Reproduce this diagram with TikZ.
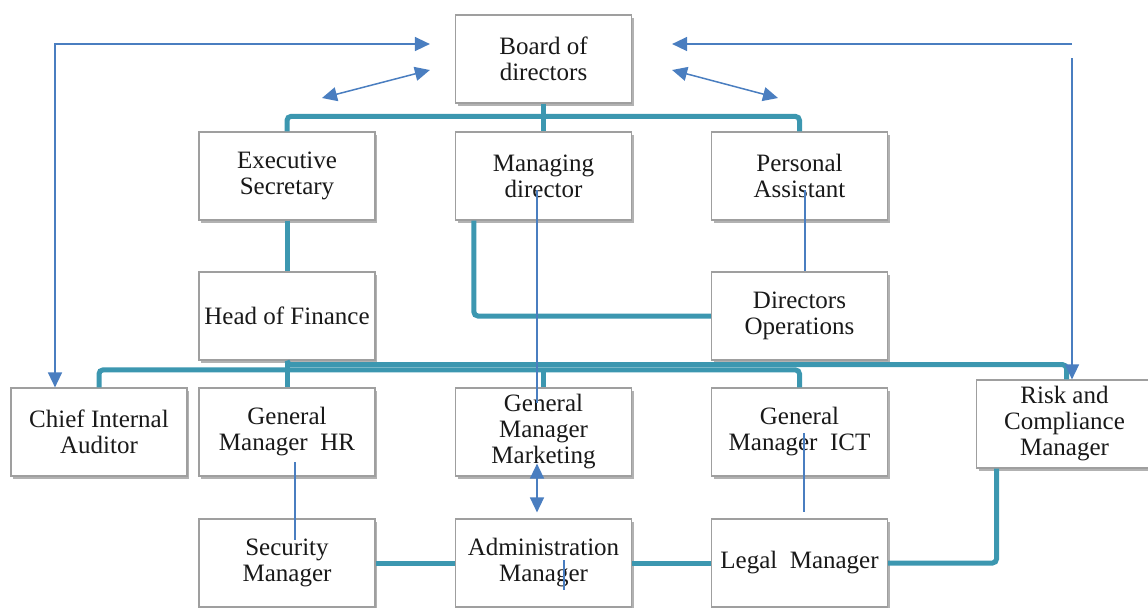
\documentclass[tikz,border=0pt]{standalone}
\usepackage{fontspec}
\setmainfont{Liberation Serif}
\usetikzlibrary{
    arrows.meta,
    shadows
}
\definecolor{busteal}{HTML}{3C97B0}
\definecolor{linkblue}{HTML}{4A7EC0}
\tikzset {
    post/.style = {
        draw = gray!75, line width = 0.6pt, fill = white,
        minimum width = 88pt, minimum height = 44pt,
        align = center, inner sep = 1pt,
        font = \fontsize{12.5pt}{13pt}\selectfont,
        text = black!90,
        drop shadow = {shadow xshift = 1.2pt, shadow yshift = -1.5pt, fill = black, opacity = 0.3}
    },
    bus line/.style = {draw = busteal, line width = 2.5pt, rounded corners = 2pt},
    thin line/.style = {draw = linkblue, line width = 0.75pt},
    %
    one way/.style = {arrows = {-Triangle[length = 7.5pt, width = 7pt]}},
    two way/.style = {arrows = {Triangle[length = 7.5pt, width = 7pt]-Triangle[length = 7.5pt, width = 7pt]}}
}
\begin{document}
\begin{tikzpicture}[x = 0.5pt, y = -0.5pt]
    \useasboundingbox (0, 0) rectangle (1148, 607);
    %
    \node (board) [post] at (543.5, 59) {Board of\\directors};
    \node (exec) [post] at (287, 176) {Executive\\Secretary};
    \node (md) [post] at (543.5, 176) {Managing\\director};
    \node (pa) [post] at (799.5, 176) {Personal\\Assistant};
    \node (hof) [post] at (287, 316) {Head of Finance};
    \node (dops) [post] at (799.5, 316) {Directors\\Operations};
    \node (cia) [post] at (99, 432) {Chief Internal\\Auditor};
    \node (gmhr) [post] at (287, 432) {General\\Manager~ HR};
    \node (gmm) [post] at (543.5, 432) {General\\Manager\\Marketing};
    \node (gmict) [post] at (799.5, 432) {General\\Manager~ ICT};
    \node (risk) [post] at (1064.5, 424) {Risk and\\Compliance\\Manager};
    \node (sec) [post] at (287, 563) {Security\\Manager};
    \node (adm) [post] at (543.5, 563) {Administration\\Manager};
    \node (legal) [post] at (799.5, 563) {Legal~ Manager};
    %
    \draw [bus line] (exec.north) -- ++(0, -15) -| (pa.north);
    \draw [bus line] (board.south) -- (md.north);
    \draw [bus line] (exec.south) -- (hof.north);
    \draw [bus line] ([xshift = 9.5pt]md.south west) |- (dops.west);
    \draw [bus line] (hof.south) -- ++(0, 4) -| ([xshift = 1pt]risk.north);
    \draw [bus line] (cia.north) -- ++(0, -17.5) -| (gmict.north);
    \draw [bus line] (hof.south) -- (gmhr.north);
    \draw [bus line] (gmm.north) -- ++(0, -17.5);
    \draw [bus line] (sec.east) -- (adm.west);
    \draw [bus line] (adm.east) -- (legal.west);
    \draw [bus line] (legal.east) -| ([xshift = -34pt]risk.south);
    %
    \coordinate (lower left) at (322, 98);
    \coordinate (lower right) at (778, 98);
    \coordinate (far right) at (1072, 44);
    \coordinate (far right drop) at (1072, 58);
    \draw [thin line, two way] ([shift = {(-25, -15)}]board.west) -| ([xshift = -22pt]cia.north);
    \draw [thin line, two way] ([shift = {(-25, 11)}]board.west) -- (lower left);
    \draw [thin line, two way] ([shift = {(40, 11)}]board.east) -- (lower right);
    \draw [thin line, one way] (far right) -- ([shift = {(40, -15)}]board.east);
    \draw [thin line, one way] (far right drop) -- ([xshift = 3.75pt]risk.north);
    \draw [thin line] ([shift = {(-6.5, 14)}]md.center) -- ([shift = {(-6.5, -29)}]gmm.center);
    \draw [thin line] ([shift = {(5.5, 14)}]pa.center) -- ([xshift = 2.75pt]dops.north);
    \draw [thin line] ([shift = {(8, 30)}]gmhr.center) -- ([shift = {(8, -23)}]sec.center);
    \draw [thin line] ([shift = {(4.5, 1)}]gmict.center) -- ([shift = {(4.5, -6)}]legal.north);
    \draw [thin line] ([shift = {(20.5, -3)}]adm.center) -- ([shift = {(20.5, 27)}]adm.center);
    \draw [thin line, two way] ([shift = {(-6.5, -13)}]gmm.south) -- ([shift = {(-6.5, -6)}]adm.north);
\end{tikzpicture}
\end{document}
